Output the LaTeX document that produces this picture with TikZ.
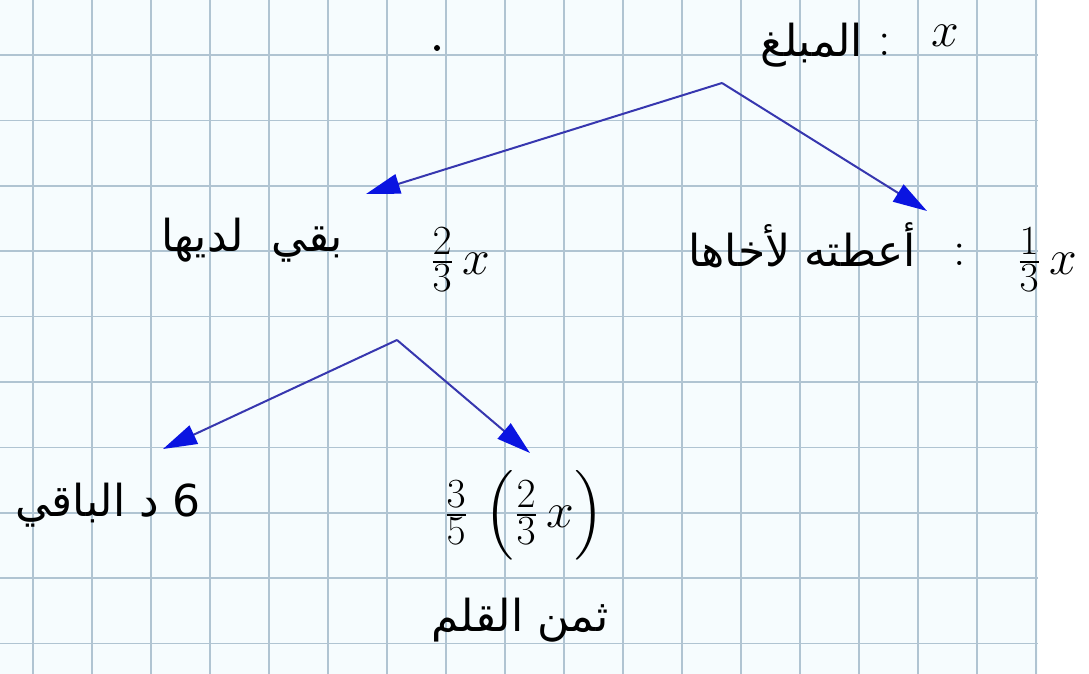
\documentclass[tikz,border=0pt]{standalone}
\usepackage{amsmath}
\usepackage{fontspec}
\newfontfamily\arabicfont[Script=Arabic]{DejaVu Sans}
\TeXXeTstate=1
\usetikzlibrary{arrows.meta}
\definecolor{gridblue}{RGB}{176,196,210}
\definecolor{paper}{RGB}{246,252,254}
\definecolor{linkblue}{RGB}{55,55,175}
\definecolor{tipblue}{RGB}{10,20,225}
\tikzset{
  gridline/.style={
    draw=gridblue,
    line width=0.8pt
  },
  treearc/.style={
    -{Triangle[length=17pt,width=10pt,color=tipblue]},
    draw=linkblue,
    line width=1pt
  },
  arlbl/.style={
    inner sep=1pt,
    font=\arabicfont\fontsize{22}{26}\selectfont
  },
  mathlbl/.style={
    inner sep=1pt,
    font=\fontsize{30}{34}\selectfont
  }
}

\begin{document}
\begin{tikzpicture}[x=0.5pt,y=-0.5pt]
  \useasboundingbox (0,0) rectangle (1089,674);
  \fill[white] (0,0) rectangle (1089,674);
  \fill[paper] (0,0) rectangle (1038,674);

  % squared paper
  \foreach \k in {0,...,17}
    \draw[gridline] (33+59*\k,0) -- (33+59*\k,674);
  \foreach \k in {0,...,9}
    \draw[gridline] (0,55+65.4*\k) -- (1038,55+65.4*\k);

  \fill (437,48) circle (1.5pt);

  % amount
  \node[arlbl] (amountlbl) at (812,45) {\beginR المبلغ\endR};
  \node[mathlbl] (amountsep) at (885,45) {$:$};
  \node[mathlbl] (amountx) at (945,36) {$x$};

  % first split
  \coordinate (top) at (722,83);
  \coordinate (topL) at (366,194);
  \coordinate (topR) at (927,211);
  \draw[treearc] (top) -- (topL);
  \draw[treearc] (top) -- (topR);

  \node[arlbl] (restlbl) at (252,240) {\beginR بقي\ \ لديها\endR};
  \node[mathlbl] (restval) at (460,260) {$\frac{2}{3}\,x$};

  \node[arlbl] (giftlbl) at (802,245) {\beginR أعطته لأخاها\endR};
  \node[mathlbl] (giftsep) at (960,255) {$:$};
  \node[mathlbl] (giftval) at (1047,260) {$\frac{1}{3}\,x$};

  % second split
  \coordinate (mid) at (397,340);
  \coordinate (midL) at (163,449);
  \coordinate (midR) at (530,453);
  \draw[treearc] (mid) -- (midL);
  \draw[treearc] (mid) -- (midR);

  \node[arlbl] (leftover) at (108,505) {\beginR 6 د الباقي\endR};
  \node[mathlbl] (penval) at (524,515) {$\frac{3}{5}\,\left(\frac{2}{3}\,x\right)$};
  \node[arlbl] (penlbl) at (520,620) {\beginR ثمن القلم\endR};
\end{tikzpicture}
\end{document}
